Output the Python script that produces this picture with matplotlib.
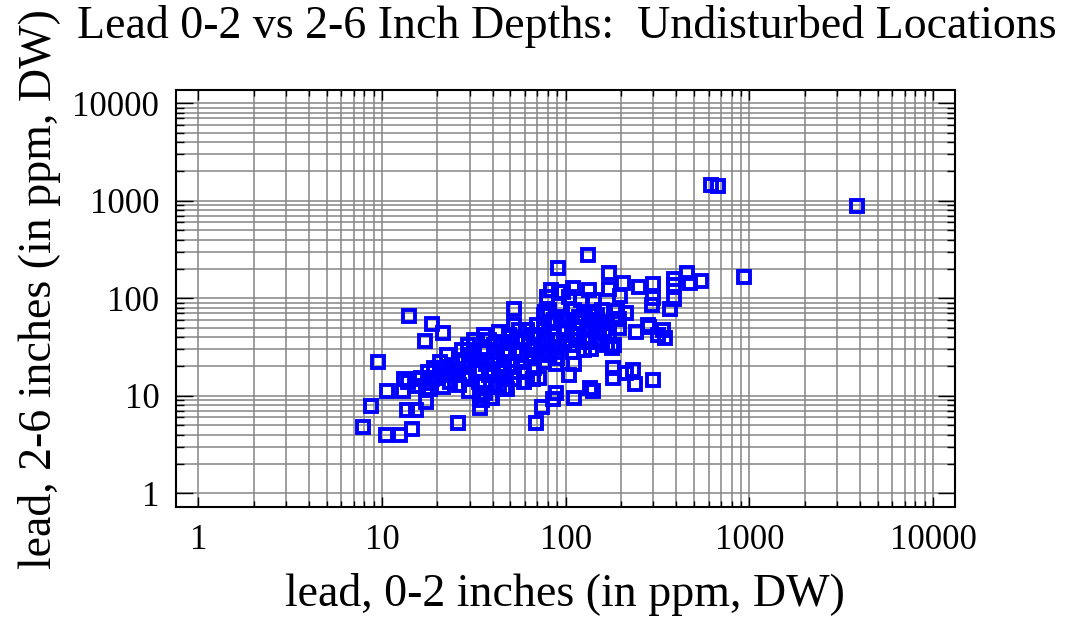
import numpy as np
import matplotlib
matplotlib.use("Agg")
import matplotlib.pyplot as plt
from matplotlib.ticker import FixedLocator, NullFormatter

plt.rcParams['font.family'] = ['Liberation Serif', 'DejaVu Serif']

# lead, 0-2 inches (x) vs lead, 2-6 inches (y), ppm dry weight
lead_0_2 = [
    615, 675, 3850, 935, 132, 91, 172, 172, 206, 198, 300, 300, 293, 388, 390,
    455, 475, 545, 388, 368, 250, 52, 77, 14, 18.8, 21.5, 17.1, 9.5, 10.6, 13,
    8.7, 13.7, 15.3, 17.3, 7.9, 10.5, 12.5, 14.5, 26, 34, 39.5, 69, 74, 89, 85,
    111, 141, 136, 181, 181, 213, 233, 238, 300, 337, 346, 279, 242, 318, 108,
    118, 150, 152, 134, 152, 183, 195, 97, 118, 140, 83, 97, 110, 134, 214, 284,
    109, 111, 104, 89, 66, 52.5, 46, 43.5, 39, 138, 178, 147, 36.5, 26, 32, 37,
    13.2, 18.2, 21.5, 18.2, 17.3, 34,
    13.8, 15.1, 15.7,
    16.4, 17.8, 19.3, 20.6, 20.0, 21.9, 18.7,
    22.7, 23.9, 25.1, 26.4, 27.1, 28.1, 23.3, 28.1,
    29.2, 30.6, 31.8, 33.0, 33.9, 36.1, 36.6, 37.5, 38.4, 39.4, 29.9, 35.2, 40.9, 40.9, 40.4,
    43.5, 45.2, 46.3, 47.5, 48.1, 49.3, 49.3, 43.5,
    52.5, 54.5, 55.8, 57.2, 59.4, 61.7, 63.3, 64.9, 67.3, 69.9, 71.7, 73.5, 76.3, 59.4, 71.7, 76.3, 51.2,
    79.2, 81.2, 83.2, 86.4, 87.5, 89.7, 92.0, 94.3, 97.9, 97.9, 79.2, 81.2, 92,
    104, 111, 115, 121, 126, 131, 134, 143, 148, 107, 118, 145, 126,
    158, 164, 172, 183, 195, 168, 190,
    29.9, 31.8, 33.9, 38.4, 42.4, 46.3, 50.5, 52.5, 59.4, 61.7, 67.3, 67.3, 76.3,
    86.4, 104, 111, 134, 162, 92, 76.3, 55.8, 26.4, 23.3, 20.6, 43.5, 36.1, 29.9,
]
lead_2_6 = [
    1445, 1420, 890, 165, 281, 205, 181, 124, 143, 106, 141, 100, 86, 158, 137,
    181, 143, 150, 99, 77, 130, 77, 72, 66, 54, 44, 36.5, 22.2, 11.2, 11.2,
    7.9, 7.2, 7.2, 8.6, 4.8, 4.0, 4.0, 4.6, 5.3, 7.5, 9.5, 5.3, 7.7, 10.7, 9.2,
    9.5, 11.2, 12, 19.4, 15.2, 17.2, 18.5, 13.2, 14.6, 47.5, 39.3, 53.5, 45, 42, 42.5,
    37.7, 37.7, 55, 49, 44, 62, 62, 60.5, 65, 70, 123, 117, 127, 123, 70, 51,
    28, 21, 16.5, 21, 14.7, 15, 12, 19, 9.6, 30, 31, 36, 10.6, 19, 23.5, 21,
    14.7, 11.6, 12.3, 13.5, 12, 10.3,
    14.0, 12.7, 14.7,
    15.4, 17.7, 19.5, 22.4, 15.4, 17.7, 14.7,
    26.5, 20.9, 16.5, 13.0, 29.8, 22.4, 14.0, 16.5,
    33.5, 26.5, 37.7, 18.6, 14.0, 42.5, 29.8, 22.4, 16.5, 12.4, 11.1, 9.15, 33.5, 23.5, 18.6,
    44.6, 36.0, 26.5, 15.4, 11.6, 42.5, 29.8, 13.0,
    53.8, 39.5, 29.8, 22.4, 17.7, 47.8, 33.5, 24.6, 19.5, 53.8, 39.5, 28.4, 22.4, 14.0, 15.4, 47.8, 20.9,
    102, 76.7, 57.7, 42.5, 31.2, 24.6, 86.3, 63.5, 47.8, 33.5, 37.7, 26.5, 115,
    102, 76.7, 57.7, 97.1, 68.1, 47.8, 36.0, 97.1, 68.1, 33.5, 42.5, 53.8, 29.8,
    76.7, 57.7, 42.5, 33.5, 50.1, 33.5, 73.2,
    20.9, 29.8, 23.5, 37.7, 28.4, 20.9, 36.0, 17.7, 37.7, 26.5, 42.5, 29.8, 33.5,
    60.5, 60.5, 42.5, 60.5, 47.8, 37.7, 68.1, 47.8, 23.5, 18.6, 17.7, 17.7, 13.0, 14.7,
]

decades = [1, 10, 100, 1000, 10000]
minor_pos = [m * d for d in decades[:-1] for m in range(2, 10)]
tick_labels = ['1', '10', '100', '1000', '10000']

fig = plt.figure(figsize=(10.69, 6.19), dpi=100)
ax = fig.add_axes([0.1646, 0.1809, 0.7288, 0.6737])
ax.set_xscale('log')
ax.set_yscale('log')
ax.set_xlim(0.756, 13150)
ax.set_ylim(0.723, 13680)

ax.xaxis.set_major_locator(FixedLocator(decades))
ax.yaxis.set_major_locator(FixedLocator(decades))
ax.xaxis.set_minor_locator(FixedLocator(minor_pos))
ax.yaxis.set_minor_locator(FixedLocator(minor_pos))
ax.set_xticklabels(tick_labels)
ax.set_yticklabels(tick_labels)
ax.xaxis.set_minor_formatter(NullFormatter())
ax.yaxis.set_minor_formatter(NullFormatter())

ax.grid(True, which='both', color='#858585', linewidth=1.1)
ax.set_axisbelow(True)

ax.tick_params(which='both', direction='in', top=True, right=True, colors='black',
               labelsize=25)
ax.tick_params(axis='x', which='major', length=7, width=1, pad=12)
ax.tick_params(axis='x', which='minor', length=4, width=1)
ax.tick_params(axis='y', which='major', length=12, width=1, pad=12)
ax.tick_params(axis='y', which='minor', length=6, width=1)
for s in ax.spines.values():
    s.set_linewidth(1.5)

ax.plot(lead_0_2, lead_2_6, linestyle='none', marker='s', markersize=8.6,
        markerfacecolor='none', markeredgecolor='#0000ff', markeredgewidth=2.8,
        zorder=3, clip_on=False)

fig.text(0.5305, 0.9386, 'Lead 0-2 vs 2-6 Inch Depths:  Undisturbed Locations',
         ha='center', va='baseline', fontsize=33)
fig.text(0.5285, 0.021, 'lead, 0-2 inches (in ppm, DW)', ha='center', va='baseline',
         fontsize=33)
fig.text(0.037, 0.533, 'lead, 2-6 inches (in ppm, DW)', ha='center', va='center',
         rotation=90, fontsize=33)

fig.savefig('out.png', dpi=100)
